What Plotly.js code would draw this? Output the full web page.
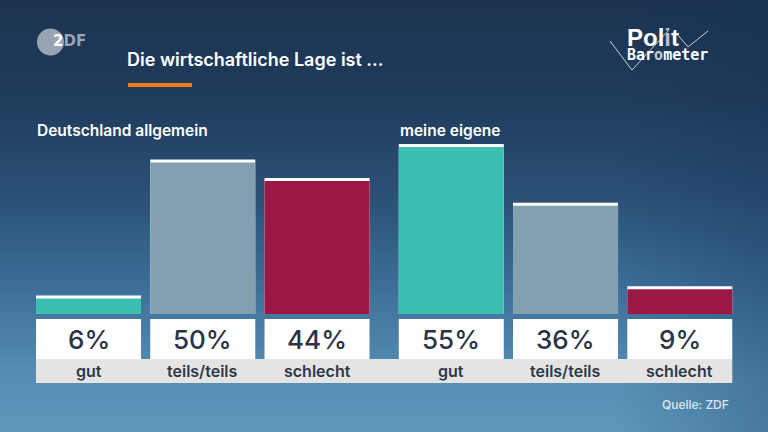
<!DOCTYPE html>
<html lang="de">
<head>
<meta charset="utf-8">
<script src="https://cdn.plot.ly/plotly-3.0.1.min.js"></script>
<style>
  html, body { margin: 0; padding: 0; width: 768px; height: 432px; overflow: hidden; }
  body {
    background:
      linear-gradient(to right, rgba(20,40,70,0) 80%, rgba(20,45,80,0.28) 100%),
      linear-gradient(to bottom, #1c3451 0%, #1f3b5b 22%, #2a5075 45%, #3e719b 68%, #5790b6 88%, #5c97bb 100%);
  }
  #chart { width: 768px; height: 432px; }
</style>
</head>
<body>
<div id="chart"></div>
<script>
// Poll results: "Die wirtschaftliche Lage ist ..."
const groups = ['Deutschland allgemein', 'meine eigene'];
const categories = ['gut', 'teils/teils', 'schlecht'];
const deutschlandAllgemein = [6, 50, 44];
const meineEigene = [55, 36, 9];
const seriesValues = [deutschlandAllgemein, meineEigene];
const categoryColors = ['#3cbfb1', '#83a0b1', '#9b1746'];

// Layout constants
const W = 768, H = 432;
const GROUP_GAP = 0.175;       // extra space between the two groups (in slots)
const BAR_W = 0.919;           // bar width (in slots)
const CAP = 0.97;              // white cap on top of each bar (in %)
const Y_MIN = -38.19, Y_MAX = 101.62;
const X_MIN = -0.7746, X_MAX = 5.947;

// pixel -> data / paper helpers for decorations
const yPx = p => Y_MAX - p / H * (Y_MAX - Y_MIN);
const px = p => p / W;
const py = p => 1 - p / H;

// Bar positions
const xs = [], vals = [], cols = [];
groups.forEach((g, gi) => {
  categories.forEach((c, ci) => {
    xs.push(gi * (categories.length + GROUP_GAP) + ci);
    vals.push(seriesValues[gi][ci]);
    cols.push(categoryColors[ci]);
  });
});

const traces = [
  { // white cap (full value)
    type: 'bar', x: xs, y: vals, width: BAR_W,
    marker: { color: '#ffffff', line: { width: 0 } },
    hoverinfo: 'skip', showlegend: false
  },
  { // coloured body below the cap
    type: 'bar', x: xs, y: vals.map(v => v - CAP), width: BAR_W,
    marker: { color: cols, line: { width: 0 } },
    hoverinfo: 'skip', showlegend: false
  },
  { // Politbarometer tick lines
    type: 'scatter', mode: 'lines', xaxis: 'x2', yaxis: 'y2',
    x: [px(610), px(632), px(668), null, px(677), px(688), px(708)],
    y: [py(41), py(70), py(31), null, py(34), py(47), py(31)],
    line: { color: '#c9d2db', width: 1 },
    hoverinfo: 'skip', showlegend: false
  }
];

const shapes = [];
const annotations = [];
const half = BAR_W / 2;

// grey label band below both groups
shapes.push({
  type: 'rect', xref: 'x', yref: 'y', layer: 'below',
  x0: xs[0] - half, x1: xs[xs.length - 1] + half,
  y0: yPx(383), y1: yPx(359),
  fillcolor: '#e6e4e3', line: { width: 0 }
});

xs.forEach((x, i) => {
  // white value box
  shapes.push({
    type: 'rect', xref: 'x', yref: 'y',
    x0: x - half, x1: x + half, y0: yPx(359), y1: yPx(319),
    fillcolor: '#ffffff', line: { width: 0 }
  });
  annotations.push({
    xref: 'x', yref: 'y', x: x, y: yPx(339), text: vals[i] + '%',
    showarrow: false, xanchor: 'center', yanchor: 'middle',
    font: { family: 'Inter, Roboto, sans-serif', size: 26, weight: 500, color: '#2a3344' }
  });
  annotations.push({
    xref: 'x', yref: 'y', x: x, y: yPx(371), text: categories[i % categories.length],
    showarrow: false, xanchor: 'center', yanchor: 'middle',
    font: { family: 'Inter, Roboto, sans-serif', size: 16, weight: 600, color: '#2d3747' }
  });
});

// group headings
groups.forEach((g, gi) => {
  annotations.push({
    xref: 'x', yref: 'y', x: xs[gi * categories.length] - half, y: yPx(130),
    text: g, showarrow: false, xanchor: 'left', yanchor: 'middle', xshift: -1,
    font: { family: 'Inter, Roboto, sans-serif', size: 15.5, weight: 600, color: '#ffffff' }
  });
});

// orange rule under the title
shapes.push({
  type: 'rect', xref: 'paper', yref: 'paper',
  x0: px(128), x1: px(192), y0: py(87), y1: py(83),
  fillcolor: '#f37b1d', line: { width: 0 }
});

// ZDF logo
shapes.push({
  type: 'circle', xref: 'paper', yref: 'paper',
  x0: px(37), x1: px(64), y0: py(55.5), y1: py(28.5),
  fillcolor: '#9aa4b1', line: { width: 0 }
});
annotations.push({
  xref: 'paper', yref: 'paper', x: px(51), y: py(41.5),
  text: '<span style="color:#ffffff"><b>2</b></span><b>DF</b>',
  showarrow: false, xanchor: 'left', yanchor: 'middle',
  font: { family: 'DejaVu Sans, sans-serif', size: 15, color: '#9aa4b1' }
});

// Politbarometer logo: two stacked lines in one text block
annotations.push({
  xref: 'paper', yref: 'paper', x: px(625), y: py(44), align: 'left',
  text: '<span style="font-family:\'Liberation Sans\',Arial,sans-serif;font-size:24px;font-weight:bold">Pol<span style="color:#b8c1cb">i</span>t</span>' +
        '<br><span style="font-family:\'DejaVu Sans Mono\',monospace;font-size:15px;font-weight:600">Bar<span style="color:#c7cfd8">o</span>meter</span>',
  showarrow: false, xanchor: 'left', yanchor: 'middle',
  font: { family: 'DejaVu Sans Mono, monospace', size: 11, color: '#ffffff' }
});

// source
annotations.push({
  xref: 'paper', yref: 'paper', x: px(731), y: py(404), text: 'Quelle: ZDF',
  showarrow: false, xanchor: 'right', yanchor: 'middle',
  font: { family: 'Inter, Roboto, sans-serif', size: 12, weight: 500, color: '#dbe7f1' }
});

const layout = {
  width: W, height: H,
  margin: { l: 0, r: 0, t: 0, b: 0, pad: 0 },
  paper_bgcolor: 'rgba(0,0,0,0)',
  plot_bgcolor: 'rgba(0,0,0,0)',
  barmode: 'overlay',
  showlegend: false,
  title: {
    text: 'Die wirtschaftliche Lage ist ...',
    x: px(127), xanchor: 'left', xref: 'paper',
    y: py(60), yanchor: 'middle', yref: 'paper',
    font: { family: 'Inter, Roboto, sans-serif', size: 18, weight: 600, color: '#ffffff' }
  },
  xaxis: { range: [X_MIN, X_MAX], visible: false, fixedrange: true },
  yaxis: { range: [Y_MIN, Y_MAX], visible: false, fixedrange: true },
  xaxis2: { range: [0, 1], visible: false, overlaying: 'x', fixedrange: true },
  yaxis2: { range: [0, 1], visible: false, overlaying: 'y', fixedrange: true },
  shapes: shapes,
  annotations: annotations
};

Plotly.newPlot('chart', traces, layout, { displayModeBar: false, staticPlot: true });
</script>
</body>
</html>
